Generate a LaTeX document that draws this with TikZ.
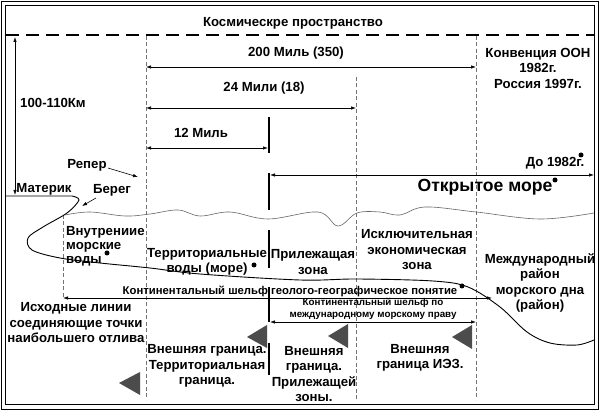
\documentclass[tikz,border=0pt]{standalone}
\usepackage{fontspec}
\setmainfont{Liberation Sans}
\usetikzlibrary{arrows.meta}
\begin{document}
\begin{tikzpicture}[x=1pt,y=-1pt,
  lbl/.style={font=\fontsize{13.2}{15.5}\selectfont\bfseries, inner sep=0pt, align=center},
  big/.style={font=\fontsize{17.6}{20}\selectfont\bfseries, inner sep=0pt},
  smalllbl/.style={font=\fontsize{11.3}{13}\selectfont\bfseries, inner sep=0pt, align=center},
  tinylbl/.style={font=\fontsize{9.8}{12}\selectfont\bfseries, inner sep=0pt, align=center},
  arr/.style={{Latex[length=5pt,width=3.5pt]}-{Latex[length=5pt,width=3.5pt]}, line width=0.7pt},
  sarr/.style={-{Latex[length=5pt,width=3.5pt]}, line width=0.6pt},
  vdash/.style={draw=black!55, line width=0.7pt, dash pattern=on 4pt off 2.5pt},
  tline/.style={line width=2.2pt},
  tri/.style={fill=black!70},
  dot/.style={circle, fill=black, inner sep=0pt, minimum size=5pt},
]
\useasboundingbox (0,0) rectangle (600,411);
\fill[white] (0,0) rectangle (600,411);
% frame
\draw[line width=1.5pt] (1.5,1.5) rectangle (598.5,409.3);
\draw[line width=1.2pt] (5.5,5.5) rectangle (594.5,404.5);
% top dashed line
\draw[line width=2pt, dash pattern=on 13pt off 7pt] (6,35) -- (594,35);
% title
\node[lbl] (title) at (293,23) {Космическре пространство};
% vertical height arrow
\coordinate (h1) at (15,37);
\coordinate (h2) at (15,195);
\draw[arr] (h1) -- (h2);
\node[lbl] (h100) at (53,103) {100-110Км};
% dashed verticals
\draw[vdash] (146,36) -- (146,400);
\draw[vdash] (356,77) -- (356,400);
\draw[vdash] (476,36) -- (476,400);
\coordinate (s1) at (63,215);
\coordinate (s2) at (63,298);
\draw[vdash] (s1) -- (s2);
% thick vertical segments
\draw[tline] (269,117) -- (269,153);
\draw[tline] (269,173) -- (269,210);
\draw[tline] (269,230) -- (269,268);
\draw[tline] (269,287) -- (269,322);
\draw[tline] (269,343) -- (269,375);
% distance arrows
\coordinate (a200l) at (146,67); \coordinate (a200r) at (476,67);
\draw[arr] (a200l) -- (a200r);
\coordinate (a24l) at (146,108); \coordinate (a24r) at (356,108);
\draw[arr] (a24l) -- (a24r);
\coordinate (a12l) at (146,148); \coordinate (a12r) at (268,148);
\draw[arr] (a12l) -- (a12r);
\coordinate (aol) at (270,175); \coordinate (aor) at (594,175);
\draw[arr] (aol) -- (aor);
\coordinate (s3) at (492,298);
\draw[arr] (s2) -- (s3);
\coordinate (kl) at (270,322); \coordinate (kr) at (476,322);
\draw[arr] (kl) -- (kr);
\node[lbl] (l200) at (296,53) {200 Миль (350)};
\node[lbl] (l24) at (264,88) {24 Мили (18)};
\node[lbl] (l12) at (201,133) {12 Миль};
\node[lbl] (konv) at (538,68) {Конвенция ООН\\1982г.\\Россия 1997г.};
\node[lbl] (do82) at (555,163) {До 1982г.};
\node[dot] (dt1) at (581,155) {};
\node[big] (open) at (485,187) {Открытое море};
\node[dot] (dt2) at (555,180) {};
% sea surface
\draw[black!60, line width=0.6pt] plot[smooth, tension=0.6] coordinates {(65,215) (90,212) (125,216) (150,214) (178,210) (200,216) (230,212) (268,219) (318,212) (338,226) (357,213) (380,212) (400,215) (425,207) (476,212) (540,219) (594,213)};
% coast
\draw[line width=0.9pt] (6,196) -- plot[smooth, tension=0.55] coordinates {(72,196) (79,200) (67,213) (43,227) (28,238) (32,250) (60,258) (100,263) (150,268) (200,274) (300,280) (357,279) (433,281) (468,287) (500,307) (527,332) (550,343) (577,345) (594,340)};
% small labels and arrows
\node[lbl] (reper) at (87,165) {Репер};
\coordinate (rp) at (138,177);
\draw[sarr] (108,168) -- (rp);
\node[lbl] (bereg) at (112,190) {Берег};
\coordinate (bg) at (82,206);
\draw[sarr] (96,198) -- (bg);
\node[lbl] (materik) at (44,189) {Материк};
% zone labels
\node[lbl, align=left, font=\fontsize{13.2}{14}\selectfont\bfseries, anchor=west] (vnutr) at (66,246) {Внутрениие\\морские\\воды};
\node[dot] (dt3) at (107,253) {};
\node[lbl] (terr) at (207,262) {Территориальные\\воды (море)};
\node[dot] (dt4) at (254,265) {};
\node[lbl] (pril) at (313,262) {Прилежащая\\зона};
\node[lbl] (iskl) at (417,250) {Исключительная\\экономическая\\зона};
\node[lbl] (mezh) at (540,283) {Международный\\район\\морского дна\\(район)};
\node[dot] (dt5) at (462,286) {};
\node[smalllbl] (kont1) at (290,291) {Континентальный шельф геолого-географическое понятие};
\node[tinylbl] (kont2) at (373,309) {Континентальный шельф по\\международному морскому праву};
\node[lbl] (ishod) at (76,323) {Исходные линии\\соединяющие точки\\наибольшего отлива};
\node[lbl] (vn1) at (207,366) {Внешняя граница.\\Территориальная\\граница.};
\node[lbl] (vn2) at (314,374) {Внешняя\\граница.\\Прилежащей\\зоны.};
\node[lbl] (vn3) at (420,358) {Внешняя\\граница ИЭЗ.};
% triangles
\fill[tri] (119,383) -- (140,372) -- (140,395) -- cycle;
\fill[tri] (247,337) -- (267,325) -- (267,348) -- cycle;
\fill[tri] (328,336) -- (348,324) -- (348,348) -- cycle;
\fill[tri] (452,337) -- (472,325) -- (472,349) -- cycle;
\end{tikzpicture}
\end{document}
